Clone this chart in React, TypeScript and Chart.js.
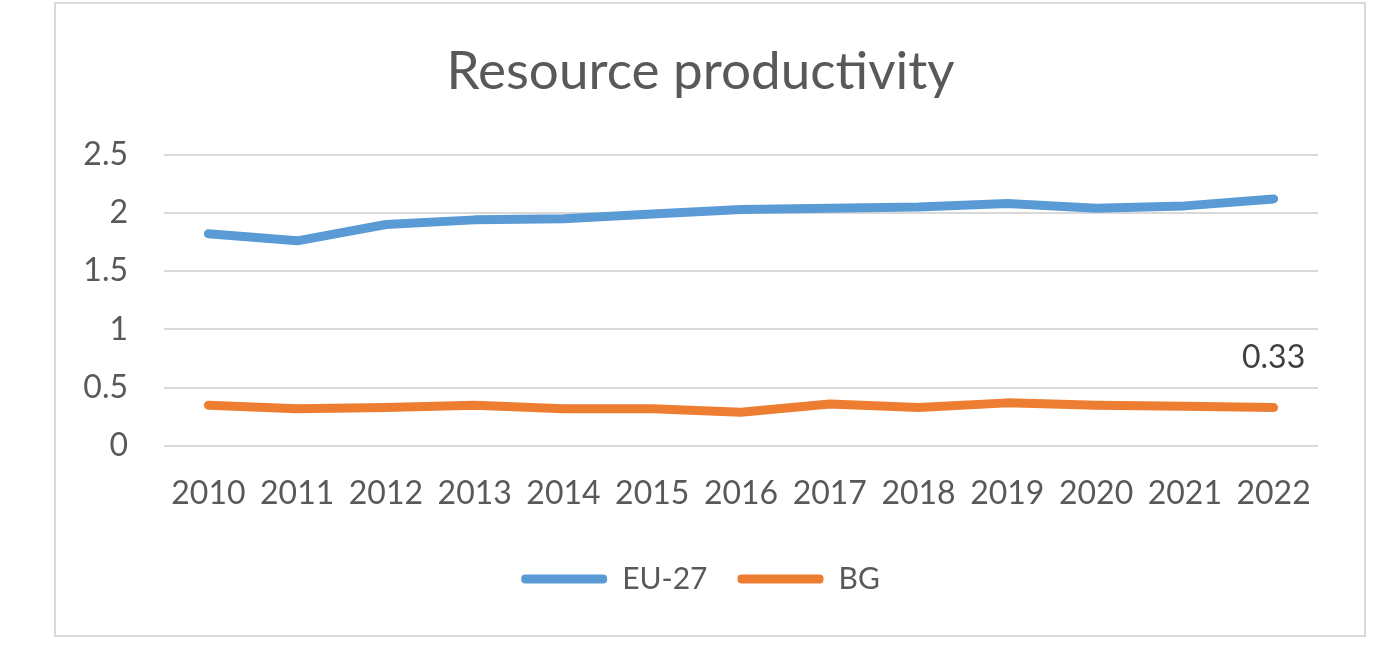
import React, { useEffect, useRef } from 'react';
import Chart from 'chart.js/auto';

const years = ['2010', '2011', '2012', '2013', '2014', '2015', '2016', '2017', '2018', '2019', '2020', '2021', '2022'];
const euValues = [1.82, 1.76, 1.9, 1.94, 1.95, 1.99, 2.03, 2.04, 2.05, 2.08, 2.04, 2.06, 2.12];
const bgValues = [0.35, 0.32, 0.33, 0.35, 0.32, 0.32, 0.29, 0.36, 0.33, 0.37, 0.35, 0.34, 0.33];
const seriesNames = ['EU-27', 'BG'];
const seriesColors = ['#5B9BD5', '#ED7D31'];

const FONT = 'Lato, "Open Sans", sans-serif';
const TEXT = '#595959';

// draws the value label over the last BG point, like Excel's single data label
const lastLabelPlugin = {
  id: 'lastLabel',
  afterDatasetsDraw(chart: any) {
    const meta = chart.getDatasetMeta(1);
    const last = meta.data[meta.data.length - 1];
    if (!last) return;
    const value = chart.data.datasets[1].data[meta.data.length - 1];
    const ctx = chart.ctx;
    ctx.save();
    ctx.font = `32px ${FONT}`;
    ctx.fillStyle = '#404040';
    ctx.textAlign = 'center';
    ctx.textBaseline = 'middle';
    ctx.fillText(value.toFixed(2), last.x, last.y - 50);
    ctx.restore();
  },
};

const App: React.FC = () => {
  const canvasRef = useRef<HTMLCanvasElement>(null);
  const chartRef = useRef<Chart | null>(null);

  useEffect(() => {
    if (!canvasRef.current) return;
    const ctx = canvasRef.current.getContext('2d');
    if (!ctx) return;

    const series = [euValues, bgValues];

    chartRef.current = new Chart(ctx, {
      type: 'line',
      data: {
        labels: years,
        datasets: series.map((data, i) => ({
          label: seriesNames[i],
          data,
          borderColor: seriesColors[i],
          backgroundColor: seriesColors[i],
          borderWidth: 9,
          borderCapStyle: 'round',
          borderJoinStyle: 'round',
          pointRadius: 0,
          tension: 0,
          fill: false,
        })) as any,
      },
      options: {
        responsive: true,
        maintainAspectRatio: false,
        animation: false,
        layout: { padding: { left: 27, right: 46, top: 0, bottom: 31 } },
        plugins: {
          title: {
            display: true,
            text: 'Resource productivity',
            color: TEXT,
            font: { family: FONT, size: 53, weight: 'normal' },
            padding: { top: 36, bottom: 51 },
          },
          legend: {
            position: 'bottom',
            labels: {
              color: TEXT,
              font: { family: FONT, size: 30 },
              boxWidth: 86,
              boxHeight: 9,
              padding: 30,
              useBorderRadius: true,
              borderRadius: 4,
              generateLabels: (chart: any) =>
                chart.data.datasets.map((ds: any, i: number) => ({
                  text: ds.label,
                  fillStyle: ds.borderColor,
                  strokeStyle: ds.borderColor,
                  lineWidth: 0,
                  hidden: false,
                  datasetIndex: i,
                  fontColor: TEXT,
                  borderRadius: 4,
                })),
            },
          },
          tooltip: { enabled: false },
        },
        scales: {
          x: {
            offset: true,
            afterFit: (axis: any) => {
              axis.height = 88;
            },
            grid: { display: false, drawTicks: false },
            border: { display: false },
            ticks: { color: TEXT, font: { family: FONT, size: 32 }, padding: 28, maxRotation: 0 },
          },
          y: {
            min: 0,
            max: 2.5,
            afterFit: (axis: any) => {
              axis.width = 81;
            },
            grid: { color: '#D9D9D9', lineWidth: 2, drawTicks: false },
            border: { display: false },
            ticks: {
              stepSize: 0.5,
              color: TEXT,
              font: { family: FONT, size: 32 },
              padding: 36,
              callback: (value) => String(value),
            },
          },
        },
      },
      plugins: [lastLabelPlugin],
    });

    return () => {
      if (chartRef.current) {
        chartRef.current.destroy();
        chartRef.current = null;
      }
    };
  }, []);

  return (
    <div style={{ position: 'absolute', left: 0, top: 0, width: 1378, height: 657, background: '#fff' }}>
      <div
        style={{
          position: 'absolute',
          left: 54,
          top: 2,
          width: 1308,
          height: 631,
          border: '2px solid #D9D9D9',
          background: '#fff',
        }}
      >
        <canvas ref={canvasRef} />
      </div>
    </div>
  );
};

export default App;
